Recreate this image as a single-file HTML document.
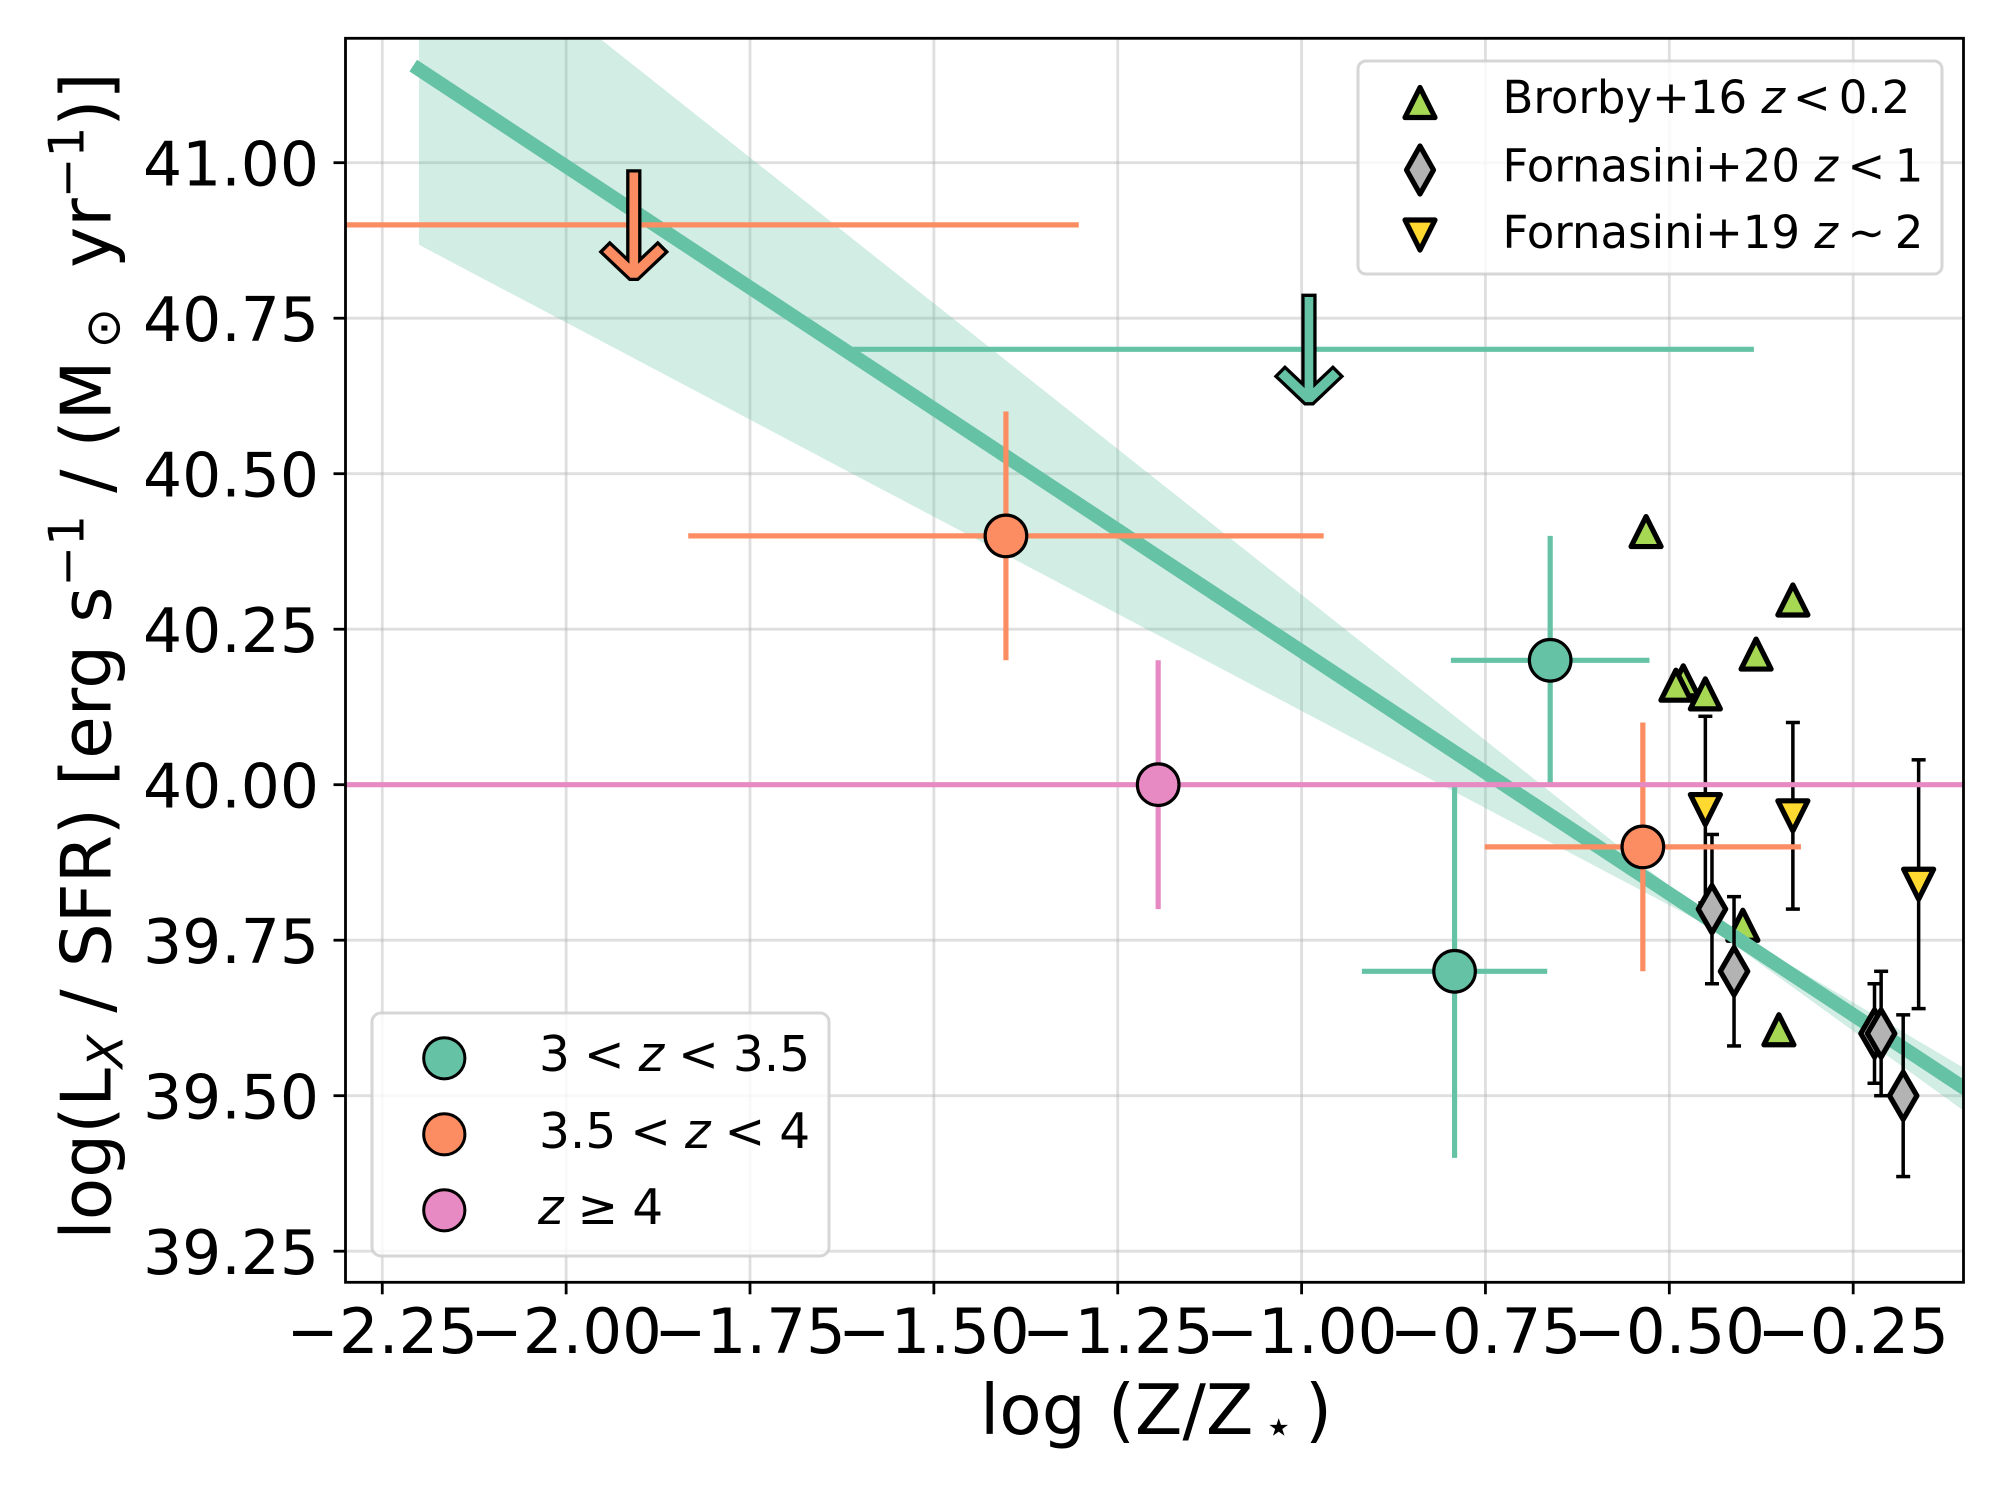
<!DOCTYPE html>
<html lang="en">
<head>
<meta charset="utf-8">
<title>X-ray luminosity per SFR vs metallicity</title>
<style>
html,body{margin:0;padding:0;background:#fff;}
svg{display:block;font-family:"DejaVu Sans","Liberation Sans",sans-serif;}
text{fill:#000;}
.mi{font-style:italic;}
</style>
</head>
<body>
<svg id="chart" xmlns="http://www.w3.org/2000/svg" width="2000" height="1500" viewBox="0 0 2000 1500">
  <defs><clipPath id="axes-clip"><rect x="345.5" y="38.3" width="1618" height="1244"/></clipPath></defs>
  <rect width="2000" height="1500" fill="#fff"/>
  <g id="grid"></g>
  <g id="plot" clip-path="url(#axes-clip)"></g>
  <g id="ticks"></g>
  <rect x="345.5" y="38.3" width="1618" height="1244" fill="none" stroke="#000" stroke-width="2.8"/>

  <text x="980" y="1434" font-size="69.4">log (Z/Z<tspan font-size="48.6" x="1263.5" dy="9">⋆</tspan><tspan x="1305" dy="-9">)</tspan></text>
  <text transform="translate(110.3,656) rotate(-90)" text-anchor="middle" font-size="69.4">log(L<tspan class="mi" font-size="48.6" dy="12">X</tspan><tspan dy="-12"> / SFR) [erg s</tspan><tspan font-size="48.6" dy="-27">−1</tspan><tspan dy="27"> / (M</tspan><tspan font-size="48.6" dx="12" dy="9">⊙</tspan><tspan dx="40" dy="-9">yr</tspan><tspan font-size="48.6" dy="-27">−1</tspan><tspan dy="27">)]</tspan></text>

  <g>
    <rect x="1358" y="61" width="584" height="213" rx="8" fill="#fff" fill-opacity=".8" stroke="#ccc" stroke-opacity=".8" stroke-width="3"/>
    <path d="M1420,87.5 L1435,117.5 L1405,117.5 Z" fill="#a6d854" stroke="#000" stroke-width="5.2" stroke-linejoin="round"/>
    <path d="M1420,146 L1433.5,170 L1420,194 L1406.5,170 Z" fill="#b3b3b3" stroke="#000" stroke-width="5.2" stroke-linejoin="round"/>
    <path d="M1405,220 L1435,220 L1420,250 Z" fill="#ffd92f" stroke="#000" stroke-width="5.2" stroke-linejoin="round"/>
    <text x="1502.5" y="113" font-size="45">Brorby+16 <tspan class="mi">z</tspan><tspan dx="8">&lt;</tspan><tspan dx="8">0.2</tspan></text>
    <text x="1502.5" y="181.5" font-size="45">Fornasini+20 <tspan class="mi">z</tspan><tspan dx="9.5">&lt;</tspan><tspan dx="9.5">1</tspan></text>
    <text x="1502.5" y="248" font-size="45">Fornasini+19 <tspan class="mi">z</tspan><tspan dx="9.5">∼</tspan><tspan dx="9.5">2</tspan></text>
  </g>

  <g>
    <rect x="372" y="1013" width="457" height="243" rx="9" fill="#fff" fill-opacity=".8" stroke="#ccc" stroke-opacity=".8" stroke-width="3"/>
    <circle cx="444.3" cy="1058.3" r="20.6" fill="#66c2a5" stroke="#000" stroke-width="3"/>
    <circle cx="444.3" cy="1134.3" r="20.6" fill="#fc8d62" stroke="#000" stroke-width="3"/>
    <circle cx="444.3" cy="1210.3" r="20.6" fill="#e78ac3" stroke="#000" stroke-width="3"/>
    <text x="539" y="1071" font-size="48.6">3<tspan dx="14">&lt;</tspan><tspan class="mi" dx="14">z</tspan><tspan dx="14">&lt;</tspan><tspan dx="14">3.5</tspan></text>
    <text x="539" y="1148" font-size="48.6">3.5<tspan dx="14">&lt;</tspan><tspan class="mi" dx="14">z</tspan><tspan dx="14">&lt;</tspan><tspan dx="14">4</tspan></text>
    <text x="538" y="1224" font-size="48.6"><tspan class="mi">z</tspan><tspan dx="14">≥</tspan><tspan dx="14">4</tspan></text>
  </g>
</svg>
<script>
// Axis ticks
const xTicks = [-2.25, -2.0, -1.75, -1.5, -1.25, -1.0, -0.75, -0.5, -0.25];
const xTickLabels = ['−2.25', '−2.00', '−1.75', '−1.50', '−1.25', '−1.00', '−0.75', '−0.50', '−0.25'];
const yTicks = [39.25, 39.5, 39.75, 40.0, 40.25, 40.5, 40.75, 41.0];
const yTickLabels = ['39.25', '39.50', '39.75', '40.00', '40.25', '40.50', '40.75', '41.00'];
const xLimits = [-2.3, -0.1];
const yLimits = [39.2, 41.2];

// Fit line and confidence band
const fitX = [-2.2, -0.1];
const fitY = [41.15, 39.513];
const bandX = [-2.2, -0.45, -0.1];
const bandUpper = [41.43, 39.79, 39.545];
const bandLower = [40.868, 39.775, 39.476];

// Redshift bins: detections
const lowZX = [-0.662, -0.792];
const lowZY = [40.2, 39.7];
const lowZXErr = [0.135, 0.126];
const lowZYErr = [0.2, 0.3];
const midZX = [-1.402, -0.536];
const midZY = [40.4, 39.9];
const midZXErr = [0.432, 0.215];
const midZYErr = [0.2, 0.2];
const highZX = [-1.195];
const highZY = [40.0];
const highZXErr = [2.0];
const highZYErr = [0.2];

// Redshift bins: upper limits
const lowZLimitX = [-0.99];
const lowZLimitY = [40.7];
const lowZLimitXLow = [-1.625];
const lowZLimitXHigh = [-0.385];
const midZLimitX = [-1.908];
const midZLimitY = [40.9];
const midZLimitXLow = [-2.46];
const midZLimitXHigh = [-1.303];

// Literature samples
const brorbyX = [-0.5316, -0.332, -0.382, -0.481, -0.491, -0.451, -0.4, -0.351];
const brorbyY = [40.407, 40.297, 40.21, 40.167, 40.16, 40.146, 39.774, 39.606];
const fornasini20X = [-0.442, -0.412, -0.221, -0.212, -0.182];
const fornasini20Y = [39.8, 39.7, 39.6, 39.6, 39.5];
const fornasini20Err = [0.12, 0.12, 0.08, 0.1, 0.13];
const fornasini19X = [-0.451, -0.332, -0.161];
const fornasini19Y = [39.96, 39.95, 39.84];
const fornasini19Err = [0.15, 0.15, 0.2];

const AX_L = 345.5, AX_R = 1963.5, AX_T = 38.3, AX_B = 1282.3;
function sx(v) { return AX_L + (v - xLimits[0]) / (xLimits[1] - xLimits[0]) * (AX_R - AX_L); }
function sy(v) { return AX_B - (v - yLimits[0]) / (yLimits[1] - yLimits[0]) * (AX_B - AX_T); }

const NS = 'http://www.w3.org/2000/svg';
const gridG = document.getElementById('grid');
const plotG = document.getElementById('plot');
const tickG = document.getElementById('ticks');

function seg(parent, x1, y1, x2, y2, color, width, opacity) {
  const el = document.createElementNS(NS, 'line');
  el.setAttribute('x1', x1);
  el.setAttribute('y1', y1);
  el.setAttribute('x2', x2);
  el.setAttribute('y2', y2);
  el.setAttribute('stroke', color);
  el.setAttribute('stroke-width', width);
  if (opacity !== undefined) el.setAttribute('stroke-opacity', opacity);
  parent.appendChild(el);
  return el;
}
function shape(parent, d, fill, strokeW, join) {
  const el = document.createElementNS(NS, 'path');
  el.setAttribute('d', d);
  el.setAttribute('fill', fill);
  el.setAttribute('stroke', '#000');
  el.setAttribute('stroke-width', strokeW);
  el.setAttribute('stroke-linejoin', join);
  parent.appendChild(el);
  return el;
}
function triUp(x, y) { return `M${x},${y - 15} L${x + 15},${y + 15} L${x - 15},${y + 15} Z`; }
function triDown(x, y) { return `M${x - 15},${y - 15} L${x + 15},${y - 15} L${x},${y + 15} Z`; }
function diamond(x, y) { return `M${x},${y - 23.7} L${x + 13.7},${y} L${x},${y + 23.7} L${x - 13.7},${y} Z`; }
function arrow(x, y) {
  const p = [[-6, -54], [6, -54], [6, 35], [24, 18], [33, 27], [4, 54.5], [-4, 54.5], [-33, 27], [-24, 18], [-6, 35]];
  return 'M' + p.map(function (q) { return (x + q[0]) + ',' + (y + q[1]); }).join(' L') + ' Z';
}

// Grid, ticks, tick labels
xTicks.forEach(function (t, i) {
  const g = seg(gridG, sx(t), AX_T, sx(t), AX_B, '#b0b0b0', 2.8, 0.4);
  
  
  const m = seg(tickG, sx(t), AX_B, sx(t), AX_B + 12, '#000', 2.8);
  
  
  const l = document.createElementNS(NS, 'text');
  l.setAttribute('x', sx(t));
  l.setAttribute('y', 1353);
  l.setAttribute('font-size', 62.5);
  l.setAttribute('text-anchor', 'middle');
  l.textContent = xTickLabels[i];
  
  
  tickG.appendChild(l);
});
yTicks.forEach(function (t, i) {
  const g = seg(gridG, AX_L, sy(t), AX_R, sy(t), '#b0b0b0', 2.8, 0.4);
  
  
  const m = seg(tickG, AX_L - 12, sy(t), AX_L, sy(t), '#000', 2.8);
  
  
  const l = document.createElementNS(NS, 'text');
  l.setAttribute('x', 319);
  l.setAttribute('y', sy(t) + 23);
  l.setAttribute('font-size', 61.5);
  l.setAttribute('text-anchor', 'end');
  l.textContent = yTickLabels[i];
  
  
  tickG.appendChild(l);
});

// Brorby triangles sit beneath the fit
brorbyX.forEach(function (v, i) {
  const el = shape(plotG, triUp(sx(v), sy(brorbyY[i])), '#a6d854', 5.2, 'round');
  
  
});

// Confidence band
const bandPts = bandX.map(function (v, i) { return sx(v) + ',' + sy(bandUpper[i]); })
  .concat(bandX.map(function (v, i) { return sx(v) + ',' + sy(bandLower[i]); }).reverse());
const bandEl = document.createElementNS(NS, 'polygon');
bandEl.setAttribute('points', bandPts.join(' '));
bandEl.setAttribute('fill', '#66c2a5');
bandEl.setAttribute('fill-opacity', '0.3');


plotG.appendChild(bandEl);

// Fit line
const fitEl = seg(plotG, sx(fitX[0]), sy(fitY[0]), sx(fitX[1]), sy(fitY[1]), '#66c2a5', 13.9);
fitEl.setAttribute('stroke-linecap', 'square');



// Literature samples with black error bars
function blackErr(x, y, e) {
  const v = seg(plotG, sx(x), sy(y + e), sx(x), sy(y - e), '#000', 3.5);
  
  
  const c1 = seg(plotG, sx(x) - 7, sy(y + e), sx(x) + 7, sy(y + e), '#000', 3.5);
  
  
  const c2 = seg(plotG, sx(x) - 7, sy(y - e), sx(x) + 7, sy(y - e), '#000', 3.5);
  
  
}
fornasini19X.forEach(function (v, i) { blackErr(v, fornasini19Y[i], fornasini19Err[i]); });
fornasini20X.forEach(function (v, i) { blackErr(v, fornasini20Y[i], fornasini20Err[i]); });
fornasini19X.forEach(function (v, i) {
  const el = shape(plotG, triDown(sx(v), sy(fornasini19Y[i])), '#ffd92f', 5.2, 'round');
  
  
});
fornasini20X.forEach(function (v, i) {
  const el = shape(plotG, diamond(sx(v), sy(fornasini20Y[i])), '#b3b3b3', 5.2, 'round');
  
  
});

// Redshift bins
function colourErr(x, y, xe, ye, color) {
  const h = seg(plotG, sx(x - xe), sy(y), sx(x + xe), sy(y), color, 5.2);
  
  
  const v = seg(plotG, sx(x), sy(y + ye), sx(x), sy(y - ye), color, 5.2);
  
  
}
function dot(x, y, color, name) {
  const c = document.createElementNS(NS, 'circle');
  c.setAttribute('cx', sx(x));
  c.setAttribute('cy', sy(y));
  c.setAttribute('r', 20.8);
  c.setAttribute('fill', color);
  c.setAttribute('stroke', '#000');
  c.setAttribute('stroke-width', 3.2);
  
  
  plotG.appendChild(c);
}
function limit(x, y, lo, hi, color, name) {
  const h = seg(plotG, sx(lo), sy(y), sx(hi), sy(y), color, 5.2);
  
  
  const a = shape(plotG, arrow(sx(x), sy(y)), color, 3.3, 'miter');
  
  
}
const LOW = '#66c2a5', MID = '#fc8d62', HIGH = '#e78ac3';
lowZLimitX.forEach(function (v, i) { limit(v, lowZLimitY[i], lowZLimitXLow[i], lowZLimitXHigh[i], LOW, 'low-z-upper-limit'); });
lowZX.forEach(function (v, i) { colourErr(v, lowZY[i], lowZXErr[i], lowZYErr[i], LOW); });
lowZX.forEach(function (v, i) { dot(v, lowZY[i], LOW, 'low-z-point'); });
midZLimitX.forEach(function (v, i) { limit(v, midZLimitY[i], midZLimitXLow[i], midZLimitXHigh[i], MID, 'mid-z-upper-limit'); });
midZX.forEach(function (v, i) { colourErr(v, midZY[i], midZXErr[i], midZYErr[i], MID); });
midZX.forEach(function (v, i) { dot(v, midZY[i], MID, 'mid-z-point'); });
highZX.forEach(function (v, i) { colourErr(v, highZY[i], highZXErr[i], highZYErr[i], HIGH); });
highZX.forEach(function (v, i) { dot(v, highZY[i], HIGH, 'high-z-point'); });
</script>
</body>
</html>
